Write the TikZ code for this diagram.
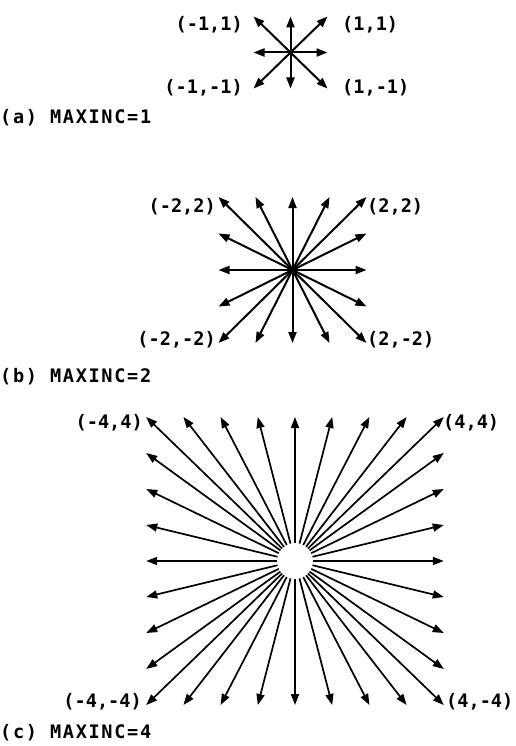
\documentclass[tikz,border=0pt]{standalone}
\usepackage{fontspec}
\newfontfamily\lblfont{DejaVu Sans Mono Bold}
\newfontfamily\capfont[LetterSpace=9]{DejaVu Sans Mono Bold}
\usetikzlibrary{arrows.meta}
\begin{document}
\begin{tikzpicture}[x=1pt,y=1pt,
  vec/.style={line width=2pt,-{Triangle[length=11pt,width=8pt]}},
  lbl/.style={font=\lblfont\fontsize{18.6}{20}\selectfont, inner sep=0pt},
  captxt/.style={font=\capfont\fontsize{18.6}{20}\selectfont, inner sep=0pt, anchor=west}]
\useasboundingbox (0,0) rectangle (515,-746);
% (a)
\coordinate (a0) at (290.5,-52.5);
\foreach \i in {-1,0,1}{\foreach \j in {-1,0,1}{
  \pgfmathtruncatemacro\m{max(abs(\i),abs(\j))}
  \ifnum\m=1
    \coordinate (a\i x\j) at (290.5+\i*37,-52.5+\j*36);
    \draw[vec] (a0) -- (a\i x\j);
  \fi}}
\node[lbl,anchor=east] (la1) at (243,-25) {(-1,1)};
\node[lbl,anchor=west] (la2) at (342,-25) {(1,1)};
\node[lbl,anchor=east] (la3) at (243,-88) {(-1,-1)};
\node[lbl,anchor=west] (la4) at (342,-88) {(1,-1)};
\node[captxt] (capa) at (0,-118) {(a) MAXINC=1};
% (b)
\coordinate (b0) at (292.5,-270);
\foreach \i in {-2,...,2}{\foreach \j in {-2,...,2}{
  \pgfmathtruncatemacro\m{max(abs(\i),abs(\j))}
  \ifnum\m=2
    \coordinate (b\i x\j) at (292.5+\i*37,-270+\j*36.5);
    \draw[vec] (b0) -- (b\i x\j);
  \fi}}
\node[lbl,anchor=east] (lb1) at (216,-207) {(-2,2)};
\node[lbl,anchor=west] (lb2) at (367,-207) {(2,2)};
\node[lbl,anchor=east] (lb3) at (216,-340) {(-2,-2)};
\node[lbl,anchor=west] (lb4) at (367,-340) {(2,-2)};
\node[captxt] (capb) at (0,-377) {(b) MAXINC=2};
% (c)
\coordinate (c0) at (295,-561);
\foreach \i in {-4,...,4}{\foreach \j in {-4,...,4}{
  \pgfmathtruncatemacro\m{max(abs(\i),abs(\j))}
  \ifnum\m=4
    \coordinate (c\i x\j) at (295+\i*37.2,-561+\j*36);
    \draw[vec,line width=1.7pt,shorten <=18pt] (c0) -- (c\i x\j);
  \fi}}
\node[lbl,anchor=east] (lc1) at (143,-423) {(-4,4)};
\node[lbl,anchor=west] (lc2) at (443,-423) {(4,4)};
\node[lbl,anchor=east] (lc3) at (142,-702) {(-4,-4)};
\node[lbl,anchor=west] (lc4) at (446,-702) {(4,-4)};
\node[captxt] (capc) at (0,-733) {(c) MAXINC=4};
\end{tikzpicture}
\end{document}
